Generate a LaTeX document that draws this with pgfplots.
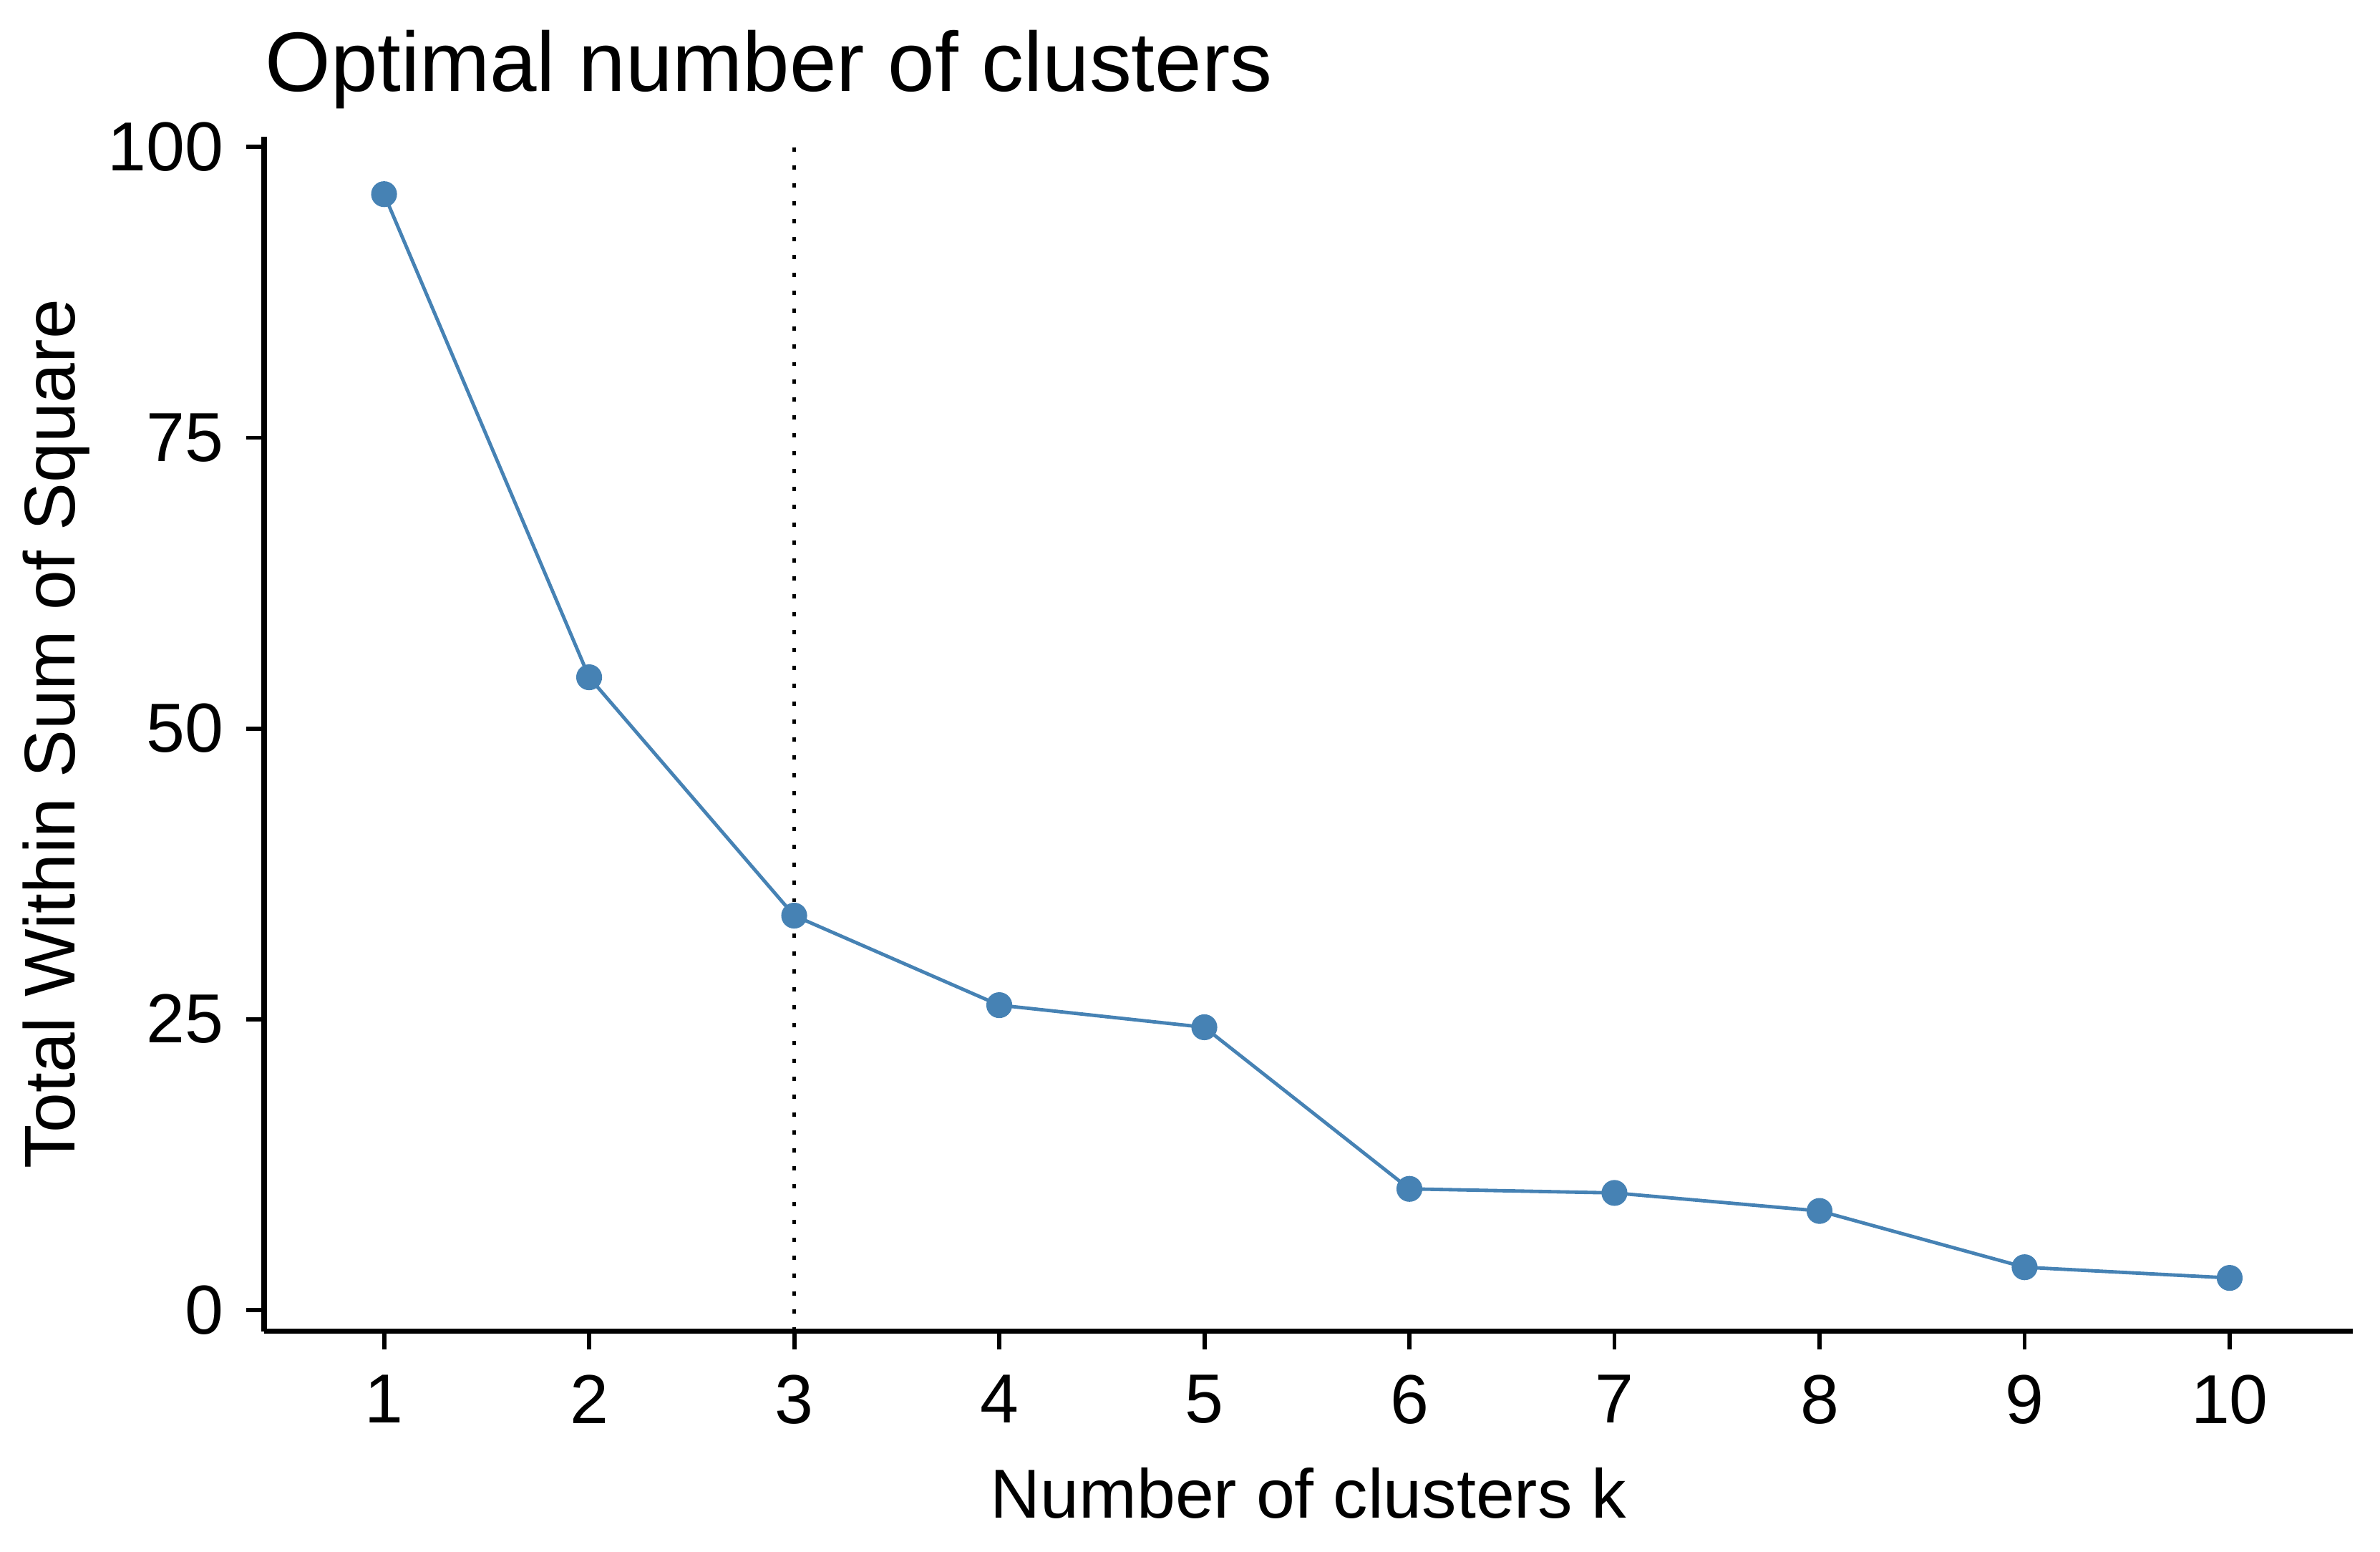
\documentclass[border=0pt]{standalone}
\usepackage{fontspec}
\setmainfont{Liberation Sans}
\usepackage{pgfplots}
\pgfplotsset{compat=1.18}
\definecolor{steelblue}{RGB}{70,130,180}

\begin{document}
\begin{tikzpicture}
\useasboundingbox (-1.74,-1.45) rectangle (13.94,8.77);
\begin{axis}[
  at={(0,0)}, anchor=south west,
  scale only axis,
  width=13.76cm, height=7.87cm,
  xmin=0.415, xmax=10.6,
  ymin=-1.85, ymax=100.9,
  axis x line=bottom, axis y line=left,
  axis line style={line width=1pt,-},
  xtick={1,...,10}, ytick={0,25,50,75,100},
  tick align=outside,
  major tick length=0.12cm,
  tick style={line width=0.8pt,black},
  /pgf/number format/assume math mode=true,
  tick label style={font=\fontsize{13}{13}\selectfont},
  yticklabel style={anchor=east,inner sep=0pt,xshift=-0.14cm},
  xticklabel style={anchor=north,inner sep=0pt,yshift=-0.16cm},
  xlabel={Number of clusters k},
  ylabel={Total Within Sum of Square},
  xlabel style={font=\fontsize{13}{13}\selectfont,at={(axis description cs:0.5,0)},anchor=base,yshift=-1.23cm},
  ylabel style={font=\fontsize{13.45}{13.45}\selectfont,at={(axis description cs:0,0.5)},anchor=center,yshift=1.37cm},
  title={Optimal number of clusters},
  title style={font=\fontsize{15.8}{15.8}\selectfont,at={(axis description cs:0,1)},anchor=base west,inner sep=0pt,yshift=0.09cm},
]
% optimal k
\addplot[black,line width=0.75pt,dash pattern=on 0.8pt off 2.55pt] coordinates {(3,-1.85) (3,100.9)};
\addplot[steelblue,line width=0.65pt,mark=*,mark size=2.1pt,mark options={solid,fill=steelblue,draw=steelblue}] coordinates {
  (1,95.95) (2,54.4) (3,33.9) (4,26.2) (5,24.3)
  (6,10.4) (7,10.05) (8,8.5) (9,3.66) (10,2.74)
};
\end{axis}
\end{tikzpicture}
\end{document}
